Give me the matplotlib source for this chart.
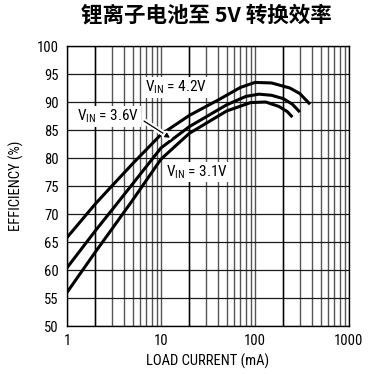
import matplotlib
matplotlib.use("Agg")
import matplotlib.pyplot as plt
import matplotlib.patheffects as pe
from matplotlib.ticker import LogLocator, NullFormatter

# Efficiency curves (load current in mA, efficiency in %)
i_42 = [1, 2, 3, 5, 10, 20, 42, 70, 100, 150, 235, 300, 385]
eff_42 = [65.8, 71.8, 75.0, 79.0, 84.2, 87.6, 90.5, 92.6, 93.5, 93.4, 92.5, 91.5, 89.6]

i_36 = [1, 2, 3, 5, 10, 20, 50, 80, 110, 150, 200, 250, 300]
eff_36 = [60.4, 67.0, 70.7, 75.4, 81.8, 85.6, 89.5, 91.0, 91.4, 91.2, 90.6, 89.6, 88.2]

i_31 = [1, 2, 3, 5, 10, 20, 50, 90, 130, 180, 220, 250]
eff_31 = [56.0, 63.2, 67.3, 72.5, 79.8, 84.4, 88.4, 89.9, 90.0, 89.2, 88.3, 87.3]

x_ticks = [1, 10, 100, 1000]
y_ticks = list(range(50, 101, 5))
dark_x = [2, 20, 200]

plt.rcParams["font.family"] = ["Roboto Condensed", "DejaVu Sans"]

fig = plt.figure(figsize=(3.71, 3.74), dpi=100)
ax = fig.add_axes([0.1806, 0.1283, 0.7601, 0.7487])

ax.set_xscale("log")
ax.set_xlim(1, 1000)
ax.set_ylim(50, 100)
ax.set_xticks(x_ticks)
ax.set_xticklabels([str(t) for t in x_ticks])
ax.xaxis.set_minor_locator(LogLocator(base=10, subs=range(2, 10)))
ax.xaxis.set_minor_formatter(NullFormatter())
ax.set_yticks(y_ticks)

# grid
ax.grid(True, which="both", axis="x", color="#555555", lw=1.0, zorder=1)
ax.grid(True, which="major", axis="y", color="#1a1a1a", lw=0.9, zorder=1)
ax.vlines(dark_x, 50, 100, color="black", lw=1.0, zorder=1.5)
ax.set_axisbelow(True)

for xs, ys in ((i_42, eff_42), (i_36, eff_36), (i_31, eff_31)):
    ax.plot(xs, ys, color="black", lw=2.2, solid_capstyle="butt", zorder=3)

ax.tick_params(which="both", length=0, labelsize=10.5, pad=6)
for s in ax.spines.values():
    s.set_linewidth(1.0)
    s.set_zorder(5)

ax.set_xlabel("LOAD CURRENT (mA)", fontsize=10.5, labelpad=4)
ax.set_ylabel("EFFICIENCY (%)", fontsize=10.5, labelpad=9)

box = dict(facecolor="white", edgecolor="none", pad=1.0)
lab = 11
ax.text(6.8, 92.6, r"V$_{\mathregular{IN}}$ = 4.2V", fontsize=lab, ha="left",
        va="center", bbox=box, zorder=4)
ax.text(1.28, 87.4, r"V$_{\mathregular{IN}}$ = 3.6V", fontsize=lab, ha="left",
        va="center", bbox=box, zorder=4)
ax.text(11.3, 77.5, r"V$_{\mathregular{IN}}$ = 3.1V", fontsize=lab, ha="left",
        va="center", bbox=box, zorder=4)
ax.annotate("", xy=(12.5, 83.6), xytext=(6.6, 86.6),
            arrowprops=dict(arrowstyle="-|>", color="black", lw=0.9,
                            mutation_scale=7, shrinkA=0, shrinkB=0,
                            path_effects=[pe.withStroke(linewidth=4, foreground="white")]),
            zorder=4)

fig.text(0.556, 0.96, "锂离子电池至 5V 转换效率", ha="center", va="center",
         fontsize=15.5, fontweight="bold",
         family=["Noto Sans CJK SC", "DejaVu Sans"])

fig.savefig("out.png", dpi=100)
